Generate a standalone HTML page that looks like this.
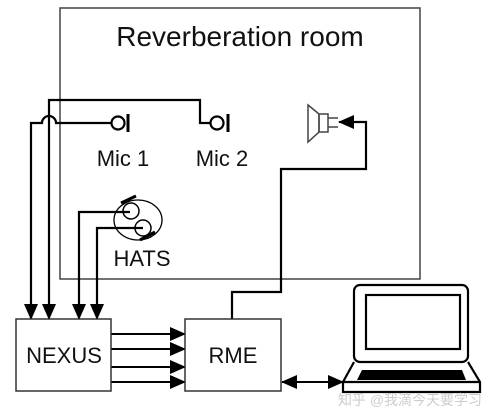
<!DOCTYPE html>
<html><head><style>body{margin:0;background:#fff}svg{display:block}text{font-family:"Liberation Sans","Noto Sans CJK SC",sans-serif;fill:#111}</style></head><body>
<svg width="490" height="419" viewBox="0 0 490 419" xmlns="http://www.w3.org/2000/svg">
<defs>
<marker id="b" markerWidth="16" markerHeight="14" refX="15" refY="7" orient="auto-start-reverse" markerUnits="userSpaceOnUse"><path d="M0,0 L16,7 L0,14 Z" fill="#000"/></marker></defs>
<rect x="60" y="8" width="360" height="271" fill="none" stroke="#444" stroke-width="1.5"/>
<text x="240" y="46" font-size="28" text-anchor="middle">Reverberation room</text>
<g fill="none" stroke="#000" stroke-width="2.2">
<path d="M31,305 V100 H42 A7,7 0 0 1 56,100 H112" transform="translate(0,23)"/>
<path d="M49,305 V100 H200 V123 H211"/>
<circle cx="118" cy="123" r="6.5"/><circle cx="217" cy="123" r="6.5"/>
<path d="M79,305 V212 H130 M97,305 V228 H143"/>
<ellipse cx="138" cy="220" rx="24" ry="20" stroke-width="1.3"/>
<circle cx="131" cy="211" r="8" stroke-width="1.5"/><circle cx="143" cy="228" r="8" stroke-width="1.5"/>
<path d="M232,319 V292 H281 V169 H366 V122 H352"/>
</g>
<g stroke="#000" stroke-width="3"><path d="M128,114 V132 M228,114 V132 M121,203 L136,196 M140,240 L155,232"/></g>
<g stroke="#000" stroke-width="2"><line x1="31" y1="300" x2="31" y2="319" marker-end="url(#b)"/><line x1="49" y1="300" x2="49" y2="319" marker-end="url(#b)"/><line x1="79" y1="300" x2="79" y2="319" marker-end="url(#b)"/><line x1="97" y1="300" x2="97" y2="319" marker-end="url(#b)"/>
<line x1="111" y1="334" x2="185" y2="334" marker-end="url(#b)"/><line x1="111" y1="349" x2="185" y2="349" marker-end="url(#b)"/><line x1="111" y1="367" x2="185" y2="367" marker-end="url(#b)"/><line x1="111" y1="382" x2="185" y2="382" marker-end="url(#b)"/>
<line x1="282" y1="382" x2="343" y2="382" marker-start="url(#b)" marker-end="url(#b)"/>
<line x1="360" y1="122" x2="339" y2="122" marker-end="url(#b)"/></g>
<g fill="none" stroke="#444" stroke-width="1.5"><path d="M308,105 L319,114 V132 L308,142 Z"/><rect x="319" y="114" width="9" height="18"/><path d="M328,118 H338 M328,127 H338"/></g>
<text x="123" y="166" font-size="22" text-anchor="middle">Mic 1</text>
<text x="222" y="166" font-size="22" text-anchor="middle">Mic 2</text>
<text x="142" y="266" font-size="22" text-anchor="middle">HATS</text>
<rect x="16" y="319" width="95" height="72" fill="#fff" stroke="#333" stroke-width="1.5"/>
<rect x="185" y="319" width="96" height="72" fill="#fff" stroke="#333" stroke-width="1.5"/>
<text x="64" y="363" font-size="22" text-anchor="middle">NEXUS</text>
<text x="233" y="363" font-size="22" text-anchor="middle">RME</text>
<g fill="none" stroke="#000" stroke-width="2.2"><rect x="354" y="285" width="114" height="77" rx="6"/><rect x="366" y="295" width="94" height="54"/><path d="M354,362 L343,382 V392 H480 V382 L468,362"/><path d="M343,382 H480"/></g>
<path d="M362,370 H462 L466,380 H357 Z" fill="#000"/>
<text x="410" y="405" font-size="14" text-anchor="middle" style="fill:#ccc">知乎 @我滴今天要学习</text>
</svg>
</body></html>
